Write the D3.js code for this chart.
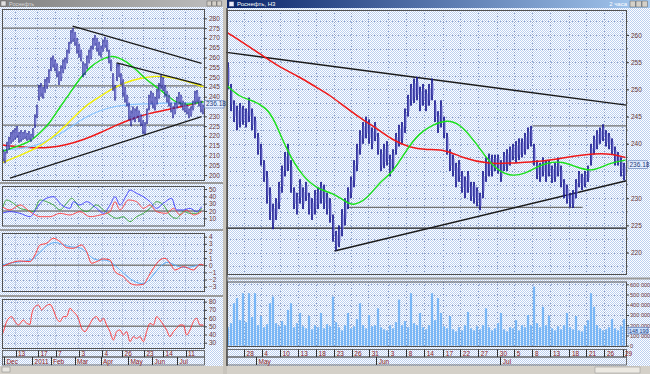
<!DOCTYPE html>
<html><head><meta charset="utf-8">
<script src="https://cdn.jsdelivr.net/npm/d3@7"></script>
<style>
html,body{margin:0;padding:0;background:#d4d0c8;overflow:hidden}
svg{display:block}
text{font-family:"Liberation Sans Narrow","Liberation Sans",Arial,sans-serif;font-size:6.5px}
</style></head><body>
<svg id="c" width="650" height="374"></svg>
<script>
// ================= DATA =================
// Right chart (2-hour bars, sampled every half trading day): Apr 26 – Jul 29 2011
const rightLo = [250,246,244,242.5,243,243.5,243,244,242.5,241,238,236,233,229,226,224.3,226,228,231,234,235,231,228,227,229,228,229.5,227,226,227,228,229,228,227,225.5,222,220.4,221,223,225,228,230,232,235,238,240,241,240,239,240.5,238,235,235.5,236,234,235,238,239.5,240,242,245,247,247.5,248,246,247,246,247,248,244,242,243,241,238,235,234,232,233,231,230,231,229.5,229,228.5,227.8,230,233,234,234,235,234.5,233,235,235,236,237,236.5,237,237.5,238,239,239.5,236,233.5,233,234,233,234,232.8,233,234,232,230,229,228.3,228.2,230,232,231.5,232,233,236,238,239,240,240.5,239.5,239,238,236,236,234,233.3];
const rightHi = [255,251,248,247,247.5,247,246.5,248.5,246.5,245,242,240,237,235,232,229,230,233,236,238.5,240,237,232,231,233.5,232,233,231,230,231.5,232,233,232.5,231,230,227,224,225,228,230,232,234,237,240,242.5,244,245,244.5,243,244,242,239,240,240.5,238,239,242,243.5,244,246.5,249,251,252,252.3,250.5,251,250,251,252,248,246,248,245,242,239,238,236.5,237,235,234,235,233,233,232,231,235,237.5,238.2,238,238,238,237,238.5,239,239.5,240,240.5,241,241,242,243,243.3,240,237,236.5,237.5,237,237,236,236.5,237.5,236,233.5,232.5,231,231.5,233.5,235,234.5,235,236,240,241.5,242.5,243,243.6,242.5,242,241,239.5,238.5,237.5,236.5];
const rightLast = 236.18;
// moving averages, [sample index, value]
const rightMaRed = [[0.4,260.4],[13.2,255.8],[17.7,254.1],[24.3,252.3],[29.9,250.4],[34.3,249],[39.9,246.6],[45.4,244.4],[49.9,242.9],[55.3,240.7],[61,239.3],[66.7,238.9],[73.3,238.9],[78.7,237.4],[87.7,236.2],[95.3,236.5],[104.3,236.7],[112,237.4],[123.3,238.3],[128.7,238.1],[133,237.5]];
const rightMaGreen = [[0.4,250.6],[4.3,248.6],[8.7,248],[13.3,246.6],[16,244.4],[20,238.9],[25.3,233.9],[31,231.5],[35.3,231],[40,229.3],[42,228.6],[46.7,229.7],[51,233],[55.3,234.6],[60,238.9],[64.3,242],[68.7,243.5],[73.3,244.4],[77.7,243.8],[83.3,240.1],[88.7,235.7],[94.3,233.9],[100,234.6],[103.3,235.7],[106.7,236.5],[112,236.8],[116.7,235.7],[122,234.8],[127.7,236.5],[133,237]];
// trend lines / levels [[idx,value],[idx,value]]
const rightTrendBlack = [[[0,256.8],[133.3,247.1]],[[36,220.3],[133.3,233.2]],[[0,224.5],[133.3,224.5]]];
const rightLevelsGray = [[[40.3,228.3],[118.7,228.3]],[[102,243.3],[133.3,243.3]]];
// volume, thousands
const rightVol = [180,220,415,465,250,513,230,513,280,513,200,290,180,210,415,480,220,190,240,200,350,415,180,220,320,190,170,290,160,200,180,320,170,210,190,480,230,180,150,200,320,170,190,260,415,200,170,300,190,200,365,180,160,150,200,170,230,450,200,240,180,513,220,200,320,180,160,200,513,250,465,320,190,170,290,160,140,180,150,200,330,170,150,190,160,200,365,180,150,170,220,320,160,140,180,170,250,150,200,180,300,200,578,220,180,380,200,290,170,150,190,160,200,320,180,160,290,150,140,200,250,513,380,200,170,150,160,180,260,170,150,190,260];
const rightVolLast = "148 190";
const rightPriceTicks = [220,225,230,240,245,250,255,260];
const rightVolTicks = [0,100,200,300,400,500,600];
const rightTickPos = [5.67,11.57,17.67,23.67,29.67,35.67,41.57,47.33,53.67,59.67,65.67,72,77.67,83.67,90,95.67,101.67,107.67,114,119.67,125.67,131.67];
const rightTickLabels = ['28','4','10','13','18','23','26','31','3','8','14','17','22','27','30','5','8','13','18','21','26','29'];
const rightMonthPos = [9.67,49.67,91];
const rightMonthLabels = ['May','Jun','Jul'];

// Left chart (daily, sampled every ~1.7 trading days): Dec 2010 – Jul 2011
const leftLo = [207,206,211,213,216,217,218,219,216.5,217,218,218.5,217.5,218,217,219,224,229,238,240,239,242,244,247,253,255,253,250,246,248,252,254,257,262,267,268,266,262,260,258,250,251,254,257,259,264,266,263,261,260,263,265,263,257,253,243,238,248,250,246,240,237,235,228,225,228,227,229,227,225,221,220.5,226,233,236,234,233,236,239,244,243,240,237,235,232,229,231,234,236,235,233,232,231,229,230,233,236,237,235,232,231];
const leftHi = [213,212,217,219.5,222,223,224,225,222,223,222,223,221.5,222.5,221,224,231,236,246,247,245,249,250,254,260,261,259,257,253,256,259,260,264,268,274,275,273,270,267,264,258,257,261,264,266,270,271.5,270,268,266,269,270.5,269,264,259,252,246,257,257,252,249,245,241,237,233,235,234,235,233,231,228,227,234,241,243,242,240,244,247,251,250,246,243,241,237,235,237,240,242.4,241,238,237,236,234,235,238,243,243.4,240,238,236];
const leftLast = 236.18;
const leftMaRed = [[0,215.4],[7.3,214.5],[15.7,213.8],[24,214],[32.3,215.4],[40.7,218],[49,221.5],[57.3,225.6],[65.7,229],[74,231.7],[82.3,233.2],[90.7,235.3],[100.7,237.4]];
const leftMaGreen = [[0,212],[7.3,214.5],[14,217],[19,221.5],[24,226.6],[29,234.8],[34,241.9],[39,249.5],[44,255.2],[49,258.7],[54,260.8],[57.3,260.4],[62.3,257.9],[67.3,253.6],[72.3,248.5],[77.3,245],[82.3,240.9],[87.3,236.8],[92.3,235.8],[97.3,236.8],[100.7,237.4]];
const leftMaYellow = [[0,206.2],[7.3,209.4],[15.7,212.8],[24,218],[32.3,225.6],[40.7,234.8],[49,240],[54,243.4],[60.7,247],[69,249.5],[77.3,250.6],[82.3,250.2],[90.7,248.5],[100.7,245]];
const leftMaBlue = [[0,212.8],[7.3,213.3],[15.7,214.5],[24,218],[32.3,223],[40.7,229],[49,233.2],[57.3,235.3],[65.7,236.3],[74,236.3],[82.3,236.8],[90.7,236.8],[100.7,236.8]];
const leftTrendBlack = [[[35.3,276],[99.8,257]],[[57.3,257.3],[99.8,246]],[[4,198.4],[99.8,229.8]]];
const leftLevels = [275,245.5,225.5];
const leftPriceTicks = [200,205,210,215,220,225,230,240,245,250,255,260,265,270,275,280];
// DMI
const dmiBlue = [[0,16.8],[4,19.1],[9,16.8],[14,12.2],[17.3,23.6],[20.7,35],[25.7,39.5],[29.8,28.2],[34,23.6],[35.7,32.7],[39,28.2],[42.3,32.7],[47.3,23.6],[50.7,16.8],[54,28.2],[56.5,39.5],[59,28.2],[62.3,41.8],[64,48.6],[67.3,44.1],[70.7,39.5],[74,32.7],[77.3,23.6],[80.7,30.5],[84.8,37.3],[87.3,21.4],[90.7,21.4],[94,23.6],[97.3,19.1],[99.8,25.9]];
const dmiRed = [[0,25.9],[4,21.4],[9,28.2],[14,19.1],[19,12.2],[24,12.2],[29,16.8],[34,14.5],[39,19.1],[44,12.2],[49,14.5],[54,19.1],[56.5,32.7],[59,21.4],[63.2,35],[67.3,32.7],[70.7,23.6],[74,28.2],[77.3,19.1],[82.3,16.8],[85.7,23.6],[89,14.5],[92.3,21.4],[95.7,14.5],[99.8,19.1]];
const dmiGreen = [[0,21.4],[2.3,35],[5.7,30.5],[9,23.6],[12.3,21.4],[15.7,19.1],[19,35],[22.3,32.7],[25.7,28.2],[29,21.4],[32.3,30.5],[34.8,37.3],[39,23.6],[42.3,19.1],[47.3,28.2],[50.7,21.4],[54,14.5],[57.3,10],[60.7,12.2],[64,5.4],[67.3,12.2],[70.7,16.8],[74,23.6],[77.3,32.7],[80.7,28.2],[84,14.5],[87.3,10],[90.7,19.1],[94,16.8],[97.3,16.8],[99.8,23.6]];
const dmiTicks = [10,20,30,40,50];
// MACD
const macdRed = [[0,-0.19],[4,0.28],[9,0.6],[14,0.51],[16.5,1.45],[19,2.84],[22.3,3.08],[25.7,3.78],[29,3.31],[32.3,2.47],[35.7,2.38],[39.8,2.84],[42.3,1.91],[44.8,0.28],[47.3,0.51],[50.7,0.89],[54,0.74],[56.5,-0.89],[60.7,-1.59],[64,-2.52],[67.3,-2.76],[70.7,-2.66],[73.2,-1.59],[75.7,-0.42],[79,0.74],[81.5,0.98],[84,0.28],[86.5,-0.66],[90.7,-0.19],[95.7,-0.66],[99,0.14],[100.7,0.04]];
const macdBlue = [[0,0.04],[5.7,0.42],[14,0.6],[17.3,1.21],[20.7,2.38],[25.7,3.4],[29.8,2.94],[34.8,2.47],[39.8,2.6],[44,1.21],[47.3,0.6],[52.3,0.89],[56.5,0.04],[60.7,-1.12],[65.7,-2.29],[70.7,-2.76],[74,-2.05],[77.3,-0.66],[82.3,0.74],[85.7,0.04],[90.7,-0.42],[95.7,-0.19],[99.8,0.14]];
const macdTicks = [-3,-2,-1,0,1,2,3,4];
// RSI
const rsi = [[0,39.4],[0.7,43.5],[2.3,55.7],[4.8,61.8],[6.5,55.7],[8.2,51.6],[10.7,57.7],[12.3,53.6],[14,52.4],[14.8,63.8],[16.5,74],[18.2,76],[19.8,69.9],[21.5,74],[24,76.8],[25.7,69.9],[27.3,59.7],[29,55.7],[30.7,61.8],[32.3,61.8],[34,71.9],[35.7,67.9],[38.2,59.7],[39.8,47.5],[41.5,43.5],[43.2,49.6],[45.7,59.7],[47.3,61.8],[49,55.7],[50.7,59.7],[52.3,51.6],[54,43.5],[55.7,33.3],[57.3,43.5],[59,45.5],[60.7,39.4],[62.3,43.5],[64,31.3],[65.7,37.4],[67.3,35.3],[69,37.4],[70.7,31.3],[72.3,43.5],[74,53.6],[75.7,51.6],[77.3,61.8],[79,57.7],[80.7,51.6],[82.3,45.5],[84,37.4],[85.7,43.5],[87.3,47.5],[89,51.6],[90.7,51.6],[92.3,39.4],[94,45.5],[95.7,55.7],[97.3,59.7],[99,51.6],[100.7,51.6]];
const rsiTicks = [30,40,50,60,70,80];
const leftTickPos = [6.5,17.7,26.5,38.2,49.8,59.8,70.7,80.3,91.5];
const leftTickLabels = ['13','17','7','3','4','26','23','14','11'];
const leftMonthPos = [0.7,14.8,24,36,49,62.7,74.8,87.3];
const leftMonthLabels = ['Dec','2011','Feb','Mar','Apr','May','Jun','Jul'];

// ================= DRAWING =================
const svg = d3.select('#c');
const defs = svg.append('defs');
const pat = defs.append('pattern').attr('id','dith').attr('width',2).attr('height',2).attr('patternUnits','userSpaceOnUse');
pat.append('rect').attr('width',2).attr('height',2).attr('fill','#ffffff');
pat.append('rect').attr('width',1).attr('height',1).attr('fill','#bcd0f0');
pat.append('rect').attr('x',1).attr('y',1).attr('width',1).attr('height',1).attr('fill','#bcd0f0');
function grad(id,a,b){const g=defs.append('linearGradient').attr('id',id);g.append('stop').attr('offset','0%').attr('stop-color',a);g.append('stop').attr('offset','100%').attr('stop-color',b);}
grad('tbL','#808080','#c0c0c0');
grad('tbR','#0a246a','#a6caf0');

const LAB='#6a3838', GRID='#8e9ec4', FRAME='#505050';
svg.append('rect').attr('width',650).attr('height',374).attr('fill','#d4d0c8');
svg.append('rect').attr('x',0).attr('y',7).attr('width',223).attr('height',359).attr('fill','url(#dith)');
svg.append('rect').attr('x',227).attr('y',8).attr('width',423).attr('height',358).attr('fill','url(#dith)');

// title bars
svg.append('rect').attr('x',0).attr('y',0).attr('width',223).attr('height',7).attr('fill','url(#tbL)');
svg.append('rect').attr('x',1).attr('y',1).attr('width',5).attr('height',5).attr('fill','#e0e0e0').attr('stroke','#606060').attr('stroke-width',0.5);
svg.append('text').attr('x',9).attr('y',5.6).attr('fill','#d8d8d8').style('font-size','5.5px').text('Роснефть');
[207,212,217].forEach(x=>svg.append('rect').attr('x',x).attr('y',1).attr('width',4.5).attr('height',5).attr('fill','#d4d0c8').attr('stroke','#404040').attr('stroke-width',0.4));
svg.append('rect').attr('x',227).attr('y',0).attr('width',423).attr('height',8).attr('fill','url(#tbR)');
svg.append('rect').attr('x',229).attr('y',1.5).attr('width',5).attr('height',5).attr('fill','#e8e8f8').attr('stroke','#203060').attr('stroke-width',0.5);
svg.append('text').attr('x',237).attr('y',6.2).attr('fill','#ffffff').style('font-size','6px').text('Роснефть,  Н3');
svg.append('text').attr('x',627).attr('y',6.2).attr('fill','#ffffff').attr('text-anchor','end').style('font-size','6px').text('2 часа');
[630,636,642].forEach(x=>svg.append('rect').attr('x',x).attr('y',1).attr('width',5.5).attr('height',6).attr('fill','#d4d0c8').attr('stroke','#404040').attr('stroke-width',0.4));

// window separators
svg.append('rect').attr('x',223).attr('y',0).attr('width',4).attr('height',374).attr('fill','#c8c4bc');
svg.append('line').attr('x1',227).attr('x2',227).attr('y1',8).attr('y2',366).attr('stroke','#303030').attr('stroke-width',1.2);

// ---------- helpers ----------
function frame(x0,x1,y0,y1){
  svg.append('rect').attr('x',x0).attr('y',y0).attr('width',x1-x0).attr('height',y1-y0).attr('fill','none').attr('stroke',FRAME).attr('stroke-width',1);
}
function hgrid(x, y, vals){
  const r=x.range();
  svg.append('g').selectAll('line').data(vals).join('line')
   .attr('x1',r[0]).attr('x2',r[1]).attr('y1',d=>Math.round(y(d))+0.5).attr('y2',d=>Math.round(y(d))+0.5)
   .attr('stroke',GRID).attr('stroke-width',1).attr('stroke-dasharray','1,2');
}
function vgrid(x, y, vals){
  const r=y.range();
  svg.append('g').selectAll('line').data(vals).join('line')
   .attr('x1',d=>Math.round(x(d))+0.5).attr('x2',d=>Math.round(x(d))+0.5).attr('y1',r[0]).attr('y2',r[1])
   .attr('stroke',GRID).attr('stroke-width',1).attr('stroke-dasharray','1,2');
}
function yaxis(xpos, y, vals, fmt, fs){
  const ax=d3.axisRight(y).tickValues(vals).tickSize(2.5).tickPadding(fs?1:2).tickFormat(fmt||d3.format('d'));
  svg.append('g').attr('transform',`translate(${xpos},0)`).call(ax).call(s=>{
    s.select('.domain').remove();
    s.selectAll('line').attr('stroke','#404040');
    s.selectAll('text').attr('fill',LAB).style('font-size',fs||'6.5px');
  });
}
function pline(x,y,data,color,w,curve){
  svg.append('path').datum(data).attr('fill','none').attr('stroke',color).attr('stroke-width',w)
   .attr('d',d3.line().x(d=>x(d[0])).y(d=>y(d[1])).curve(curve||d3.curveMonotoneX));
}
function segs(x,y,list,color,w){
  list.forEach(s=>svg.append('line').attr('x1',x(s[0][0])).attr('y1',y(s[0][1])).attr('x2',x(s[1][0])).attr('y2',y(s[1][1]))
    .attr('stroke',color).attr('stroke-width',w));
}
function bars(x,y,lo,hi,w){
  const g=svg.append('g');
  g.selectAll('rect.a').data(lo).join('rect').attr('class','a')
   .attr('x',(d,i)=>x(i+0.5)-w/2).attr('width',w)
   .attr('y',(d,i)=>y(hi[i])).attr('height',(d,i)=>Math.max(1,y(d)-y(hi[i])))
   .attr('fill','#1c1c92');
  g.selectAll('rect.b').data(lo).join('rect').attr('class','b')
   .attr('x',(d,i)=>x(i+0.5)+w/2-0.2).attr('width',0.9)
   .attr('y',(d,i)=>y(hi[i])+(y(d)-y(hi[i]))*0.2).attr('height',(d,i)=>Math.max(0.5,(y(d)-y(hi[i]))*0.55))
   .attr('fill','#8a8ae0');
}
function priceBox(xpos,yv,txt){
  svg.append('rect').attr('x',xpos).attr('y',yv-3.8).attr('width',19.5).attr('height',7.6).attr('fill','#e4eeff').attr('stroke','#5070b0').attr('stroke-width',0.6);
  svg.append('text').attr('x',xpos+1.5).attr('y',yv+2.3).attr('fill','#203878').style('font-size','6.5px').text(txt);
}
function dateRows(x, y0, y1, y2, tickPos, tickLabels, monthPos, monthLabels){
  const r=x.range();
  svg.append('rect').attr('x',r[0]).attr('y',y0).attr('width',r[1]-r[0]).attr('height',y1-y0).attr('fill','none').attr('stroke',FRAME).attr('stroke-width',0.8);
  svg.append('rect').attr('x',r[0]).attr('y',y1).attr('width',r[1]-r[0]).attr('height',y2-y1).attr('fill','none').attr('stroke',FRAME).attr('stroke-width',0.8);
  svg.append('g').selectAll('line').data(tickPos).join('line')
    .attr('x1',d=>Math.round(x(d))+0.5).attr('x2',d=>Math.round(x(d))+0.5).attr('y1',y0).attr('y2',y1).attr('stroke','#303030').attr('stroke-width',1);
  svg.append('g').selectAll('text').data(tickPos).join('text')
    .attr('x',d=>x(d)+2.5).attr('y',y1-1.2).attr('fill','#8a2020').text((d,i)=>tickLabels[i]);
  svg.append('g').selectAll('line').data(monthPos).join('line')
    .attr('x1',d=>Math.round(x(d))+0.5).attr('x2',d=>Math.round(x(d))+0.5).attr('y1',y1).attr('y2',y2).attr('stroke','#303030').attr('stroke-width',1);
  svg.append('g').selectAll('text').data(monthPos).join('text')
    .attr('x',d=>x(d)+2.5).attr('y',y2-1.5).attr('fill','#8a2020').text((d,i)=>monthLabels[i]);
}

// ================= RIGHT WINDOW =================
const xR = d3.scaleLinear().domain([0,133]).range([226.5,625.5]);
const xRr = d3.scaleLinear().domain([0,133]).range([227,626.5]);
const yR = d3.scaleLinear().domain([220,260]).range([252.6,35]);
const yV = d3.scaleLinear().domain([0,600]).range([345.7,284.3]);
hgrid(xRr, yR, d3.range(217.5,264,2.5));
vgrid(xR, d3.scaleLinear().range([10,274]), rightTickPos);
hgrid(xRr, yV, rightVolTicks);
vgrid(xR, d3.scaleLinear().range([282,347]), rightTickPos);

segs(xR,yR,rightLevelsGray,'#707070',1.2);
segs(xR,yR,rightTrendBlack,'#1a1a1a',1.4);
bars(xR,yR,rightLo,rightHi,1.7);
pline(xR,yR,rightMaRed,'#f01818',1.5,d3.curveBasis);
pline(xR,yR,rightMaGreen,'#18e018',1.4,d3.curveBasis);
frame(227.5,626.5,10.5,274.5);
yaxis(626.5,yR,rightPriceTicks);
svg.append('g').selectAll('line').data(d3.range(217.5,264,2.5)).join('line')
  .attr('x1',626.5).attr('x2',628).attr('y1',d=>yR(d)).attr('y2',d=>yR(d)).attr('stroke','#404040').attr('stroke-width',0.6);
priceBox(628,yR(rightLast),'236.18');

svg.append('line').attr('x1',227).attr('x2',650).attr('y1',278.5).attr('y2',278.5).attr('stroke','#9a9a9a').attr('stroke-width',2);

// volume bars
svg.append('g').selectAll('rect').data(rightVol).join('rect')
  .attr('x',(d,i)=>xR(i+0.5)-1.1).attr('width',2.2)
  .attr('y',d=>yV(d)).attr('height',d=>yV(0)-yV(d))
  .attr('fill','#78b6f6');
frame(227.5,626.5,282,346.5);
yaxis(626.5,yV,rightVolTicks,d=>d===0?'0':d+' 000','5.6px');
svg.append('rect').attr('x',628).attr('y',yV(148)-3.3).attr('width',20).attr('height',6.6).attr('fill','#c8e0ff').attr('stroke','#5070b0').attr('stroke-width',0.6);
svg.append('text').attr('x',629).attr('y',yV(148)+2).attr('fill','#203878').style('font-size','5.4px').text(rightVolLast);

dateRows(xRr,349.5,357,365,rightTickPos,rightTickLabels,rightMonthPos,rightMonthLabels);
svg.append('rect').attr('x',227).attr('y',366).attr('width',423).attr('height',8).attr('fill','#d4d0c8');
svg.append('rect').attr('x',595).attr('y',367).attr('width',45).attr('height',6).attr('fill','#ece9e2').attr('stroke','#909090').attr('stroke-width',0.5);

// ================= LEFT WINDOW =================
const xL = d3.scaleLinear().domain([0,101]).range([2,204]);
const yL = d3.scaleLinear().domain([200,280]).range([175.1,18.3]);
hgrid(xL, yL, d3.range(200,285,5));
vgrid(xL, d3.scaleLinear().range([9,180]), leftTickPos);
leftLevels.forEach(v=>svg.append('line').attr('x1',2).attr('x2',204).attr('y1',yL(v)).attr('y2',yL(v)).attr('stroke','#707070').attr('stroke-width',1.3));
pline(xL,yL,leftMaRed,'#f01818',1.5,d3.curveBasis);
pline(xL,yL,leftMaBlue,'#88c4ff',1.2,d3.curveBasis);
pline(xL,yL,leftMaYellow,'#f4f000',1.4,d3.curveBasis);
pline(xL,yL,leftMaGreen,'#18e018',1.4,d3.curveBasis);
bars(xL,yL,leftLo,leftHi,1.3);
segs(xL,yL,leftTrendBlack,'#1a1a1a',1.3);
frame(2.5,204.5,9.5,180.5);
yaxis(204.5,yL,leftPriceTicks);
priceBox(204.5,yL(leftLast),'236.18');

[183,230,296].forEach(y=>svg.append('line').attr('x1',0).attr('x2',223).attr('y1',y).attr('y2',y).attr('stroke','#9a9a9a').attr('stroke-width',2));

// DMI
const yD = d3.scaleLinear().domain([10,50]).range([218.3,189]);
hgrid(xL, yD, dmiTicks);
vgrid(xL, d3.scaleLinear().range([187,226]), leftTickPos);
svg.append('line').attr('x1',2).attr('x2',204).attr('y1',yD(20)).attr('y2',yD(20)).attr('stroke','#808080').attr('stroke-width',1.4);
pline(xL,yD,dmiGreen,'#30a030',0.9,d3.curveMonotoneX);
pline(xL,yD,dmiRed,'#ff3c3c',0.9,d3.curveMonotoneX);
pline(xL,yD,dmiBlue,'#3c3cff',0.9,d3.curveMonotoneX);
frame(2.5,204.5,186.5,226);
yaxis(204.5,yD,dmiTicks);

// MACD
const yM = d3.scaleLinear().domain([-3,4]).range([286.7,236.7]);
hgrid(xL, yM, macdTicks);
vgrid(xL, d3.scaleLinear().range([233.5,291.5]), leftTickPos);
svg.append('line').attr('x1',2).attr('x2',204).attr('y1',yM(0)).attr('y2',yM(0)).attr('stroke','#808080').attr('stroke-width',1.4);
pline(xL,yM,macdBlue,'#58acf8',1,d3.curveBasis);
pline(xL,yM,macdRed,'#ff3c3c',1,d3.curveMonotoneX);
frame(2.5,204.5,233.5,291.5);
yaxis(204.5,yM,macdTicks);

// RSI
const yS = d3.scaleLinear().domain([30,80]).range([342.7,301.7]);
hgrid(xL, yS, rsiTicks);
vgrid(xL, d3.scaleLinear().range([299.5,348.5]), leftTickPos);
svg.append('line').attr('x1',2).attr('x2',204).attr('y1',yS(50)).attr('y2',yS(50)).attr('stroke','#808080').attr('stroke-width',1.4);
pline(xL,yS,rsi,'#ff3030',0.9,d3.curveMonotoneX);
frame(2.5,204.5,299.5,348.5);
yaxis(204.5,yS,rsiTicks);

dateRows(d3.scaleLinear().domain([0,101]).range([2.5,204.5]),350.5,357,365,leftTickPos,leftTickLabels,leftMonthPos,leftMonthLabels);
svg.append('rect').attr('x',0).attr('y',366).attr('width',223).attr('height',8).attr('fill','#d4d0c8');
svg.append('rect').attr('x',2).attr('y',367).attr('width',8).attr('height',5).attr('fill','#e8e6e0').attr('stroke','#808080').attr('stroke-width',0.5);
</script>
</body></html>
